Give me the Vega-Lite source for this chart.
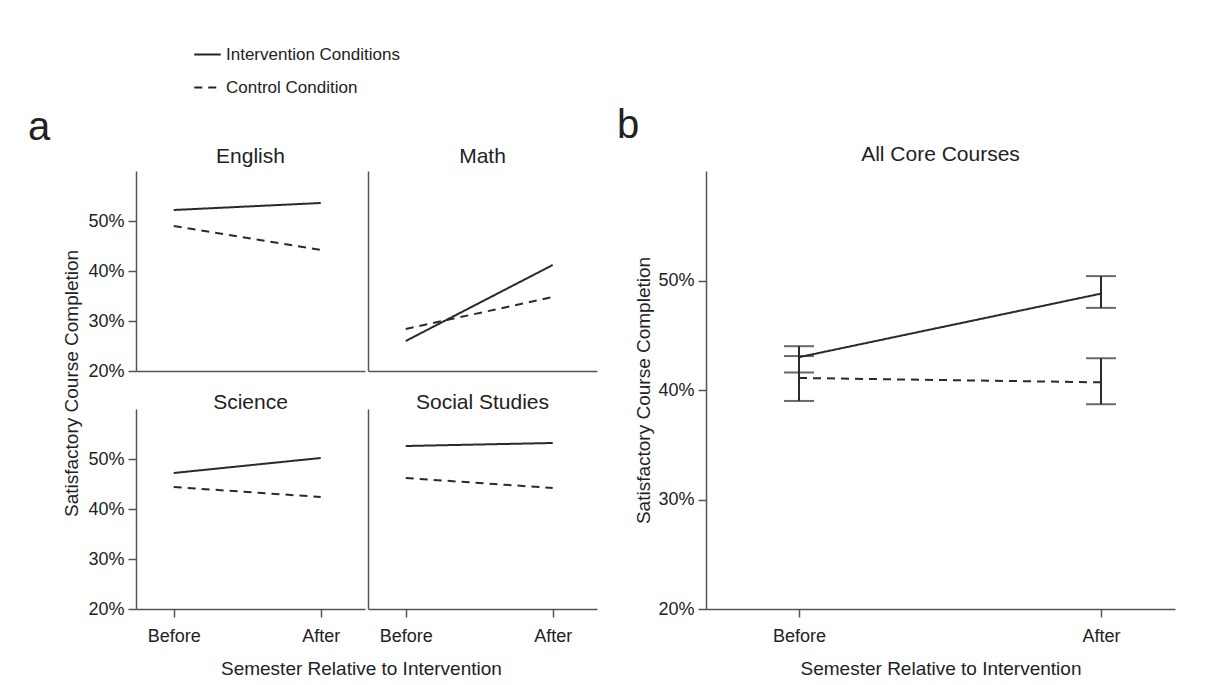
{
  "$schema": "https://vega.github.io/schema/vega-lite/v6.json",
  "padding": {"left": 27, "top": 40, "right": 5, "bottom": 5},
  "background": "white",
  "data": {
    "values": [
      {"subject": "English", "semester": "Before", "condition": "Intervention Conditions", "value": 0.522},
      {"subject": "English", "semester": "After", "condition": "Intervention Conditions", "value": 0.536},
      {"subject": "English", "semester": "Before", "condition": "Control Condition", "value": 0.49},
      {"subject": "English", "semester": "After", "condition": "Control Condition", "value": 0.442},
      {"subject": "Math", "semester": "Before", "condition": "Intervention Conditions", "value": 0.26},
      {"subject": "Math", "semester": "After", "condition": "Intervention Conditions", "value": 0.412},
      {"subject": "Math", "semester": "Before", "condition": "Control Condition", "value": 0.284},
      {"subject": "Math", "semester": "After", "condition": "Control Condition", "value": 0.348},
      {"subject": "Science", "semester": "Before", "condition": "Intervention Conditions", "value": 0.472},
      {"subject": "Science", "semester": "After", "condition": "Intervention Conditions", "value": 0.502},
      {"subject": "Science", "semester": "Before", "condition": "Control Condition", "value": 0.444},
      {"subject": "Science", "semester": "After", "condition": "Control Condition", "value": 0.424},
      {"subject": "Social Studies", "semester": "Before", "condition": "Intervention Conditions", "value": 0.526},
      {"subject": "Social Studies", "semester": "After", "condition": "Intervention Conditions", "value": 0.532},
      {"subject": "Social Studies", "semester": "Before", "condition": "Control Condition", "value": 0.462},
      {"subject": "Social Studies", "semester": "After", "condition": "Control Condition", "value": 0.442},
      {"subject": "All", "semester": "Before", "condition": "Intervention Conditions", "value": 0.430, "lo": 0.416, "hi": 0.440},
      {"subject": "All", "semester": "After", "condition": "Intervention Conditions", "value": 0.488, "lo": 0.475, "hi": 0.504},
      {"subject": "All", "semester": "Before", "condition": "Control Condition", "value": 0.411, "lo": 0.390, "hi": 0.431},
      {"subject": "All", "semester": "After", "condition": "Control Condition", "value": 0.407, "lo": 0.387, "hi": 0.429}
    ]
  },
  "config": {
    "font": "Liberation Sans, Arial, sans-serif",
    "view": {"stroke": null},
    "axis": {
      "domainColor": "#555", "tickColor": "#555", "labelColor": "#222", "titleColor": "#222",
      "labelFontSize": 18, "titleFontSize": 19, "titleFontWeight": "normal", "grid": false,
      "domainWidth": 1.5, "tickWidth": 1.5, "tickSize": 8, "labelPadding": 4
    },
    "axisX": {"labelPadding": 10},
    "title": {"fontWeight": "normal", "color": "#222", "fontSize": 21},
    "legend": {"labelFontSize": 17, "labelColor": "#222", "symbolStrokeColor": "#222", "symbolStrokeWidth": 2, "labelLimit": 400}
  },
  "hconcat": [
    {
      "title": {"text": "a", "anchor": "start", "fontSize": 40, "dx": -35, "offset": -2},
      "vconcat": [
        {
          "title": {"text": "Semester Relative to Intervention", "orient": "bottom", "fontSize": 19, "dx": 158, "offset": 15},
          "vconcat": [
            {
              "title": {"text": "Satisfactory Course Completion", "orient": "left", "fontSize": 19, "offset": 6, "dx": 128},
              "spacing": 12,
              "vconcat": [
                {
                  "spacing": 3,
                  "hconcat": [
                    {
                      "title": {"text": "English", "offset": 4},
                      "width": 229, "height": 200,
                      "transform": [{"filter": "datum.subject === 'English'"}],
                      "mark": {"type": "line", "color": "#2a2a2a", "strokeWidth": 2},
                      "encoding": {
                        "x": {"field": "semester", "type": "ordinal", "sort": ["Before", "After"], "scale": {"type": "point", "padding": 0.279, "align": 0.46}, "axis": {"labels": false, "ticks": false, "title": null}},
                        "y": {"field": "value", "type": "quantitative", "scale": {"domain": [0.2, 0.6]}, "axis": {"values": [0.2, 0.3, 0.4, 0.5], "format": ".0%", "title": null}},
                        "strokeDash": {"field": "condition", "type": "nominal", "scale": {"domain": ["Intervention Conditions", "Control Condition"], "range": [[1, 0], [8, 6]]},
                          "legend": {"title": null, "orient": "none", "legendX": 57, "legendY": -131, "symbolType": "stroke", "symbolSize": 700, "rowPadding": 10, "labelOffset": 4}}
                      }
                    },
                    {
                      "title": {"text": "Math", "offset": 4},
                      "width": 229, "height": 200,
                      "transform": [{"filter": "datum.subject === 'Math'"}],
                      "mark": {"type": "line", "color": "#2a2a2a", "strokeWidth": 2},
                      "encoding": {
                        "x": {"field": "semester", "type": "ordinal", "sort": ["Before", "After"], "scale": {"type": "point", "padding": 0.279, "align": 0.46}, "axis": {"labels": false, "ticks": false, "title": null}},
                        "y": {"field": "value", "type": "quantitative", "scale": {"domain": [0.2, 0.6]}, "axis": {"values": [0.2, 0.3, 0.4, 0.5], "labels": false, "ticks": false, "title": null}},
                        "strokeDash": {"field": "condition", "type": "nominal", "scale": {"domain": ["Intervention Conditions", "Control Condition"], "range": [[1, 0], [8, 6]]}, "legend": null}
                      }
                    }
                  ]
                },
                {
                  "spacing": 3,
                  "hconcat": [
                    {
                      "title": {"text": "Science", "offset": -4},
                      "width": 229, "height": 200,
                      "transform": [{"filter": "datum.subject === 'Science'"}],
                      "mark": {"type": "line", "color": "#2a2a2a", "strokeWidth": 2},
                      "encoding": {
                        "x": {"field": "semester", "type": "ordinal", "sort": ["Before", "After"], "scale": {"type": "point", "padding": 0.279, "align": 0.46}, "axis": {"labelAngle": 0, "title": null}},
                        "y": {"field": "value", "type": "quantitative", "scale": {"domain": [0.2, 0.6]}, "axis": {"values": [0.2, 0.3, 0.4, 0.5], "format": ".0%", "title": null}},
                        "strokeDash": {"field": "condition", "type": "nominal", "scale": {"domain": ["Intervention Conditions", "Control Condition"], "range": [[1, 0], [8, 6]]}, "legend": null}
                      }
                    },
                    {
                      "title": {"text": "Social Studies", "offset": -4},
                      "width": 229, "height": 200,
                      "transform": [{"filter": "datum.subject === 'Social Studies'"}],
                      "mark": {"type": "line", "color": "#2a2a2a", "strokeWidth": 2},
                      "encoding": {
                        "x": {"field": "semester", "type": "ordinal", "sort": ["Before", "After"], "scale": {"type": "point", "padding": 0.279, "align": 0.46}, "axis": {"labelAngle": 0, "title": null}},
                        "y": {"field": "value", "type": "quantitative", "scale": {"domain": [0.2, 0.6]}, "axis": {"values": [0.2, 0.3, 0.4, 0.5], "labels": false, "ticks": false, "title": null}},
                        "strokeDash": {"field": "condition", "type": "nominal", "scale": {"domain": ["Intervention Conditions", "Control Condition"], "range": [[1, 0], [8, 6]]}, "legend": null}
                      }
                    }
                  ]
                }
              ]
            }
          ]
        }
      ]
    },
    {
      "title": {"text": "b", "anchor": "start", "fontSize": 40, "dx": -18, "offset": -2},
      "vconcat": [
        {
          "title": {"text": "All Core Courses", "offset": 6},
          "width": 469, "height": 438,
          "transform": [{"filter": "datum.subject === 'All'"}],
          "encoding": {
            "x": {"field": "semester", "type": "ordinal", "sort": ["Before", "After"], "scale": {"type": "point", "padding": 0.2765, "align": 0.557}, "axis": {"labelAngle": 0, "title": "Semester Relative to Intervention", "titlePadding": 14}},
            "y": {"field": "value", "type": "quantitative", "scale": {"domain": [0.2, 0.6]}, "axis": {"values": [0.2, 0.3, 0.4, 0.5], "format": ".0%", "title": "Satisfactory Course Completion"}}
          },
          "layer": [
            {
              "mark": {"type": "rule", "color": "#2a2a2a", "strokeWidth": 2},
              "encoding": {"y": {"field": "lo", "type": "quantitative"}, "y2": {"field": "hi"}}
            },
            {
              "mark": {"type": "tick", "color": "#2a2a2a", "thickness": 2, "size": 30},
              "encoding": {"y": {"field": "lo", "type": "quantitative"}}
            },
            {
              "mark": {"type": "tick", "color": "#2a2a2a", "thickness": 2, "size": 30},
              "encoding": {"y": {"field": "hi", "type": "quantitative"}}
            },
            {
              "mark": {"type": "line", "color": "#2a2a2a", "strokeWidth": 2},
              "encoding": {
                "strokeDash": {"field": "condition", "type": "nominal", "scale": {"domain": ["Intervention Conditions", "Control Condition"], "range": [[1, 0], [8, 6]]}, "legend": null}
              }
            }
          ]
        }
      ]
    }
  ],
  "spacing": 19
}
